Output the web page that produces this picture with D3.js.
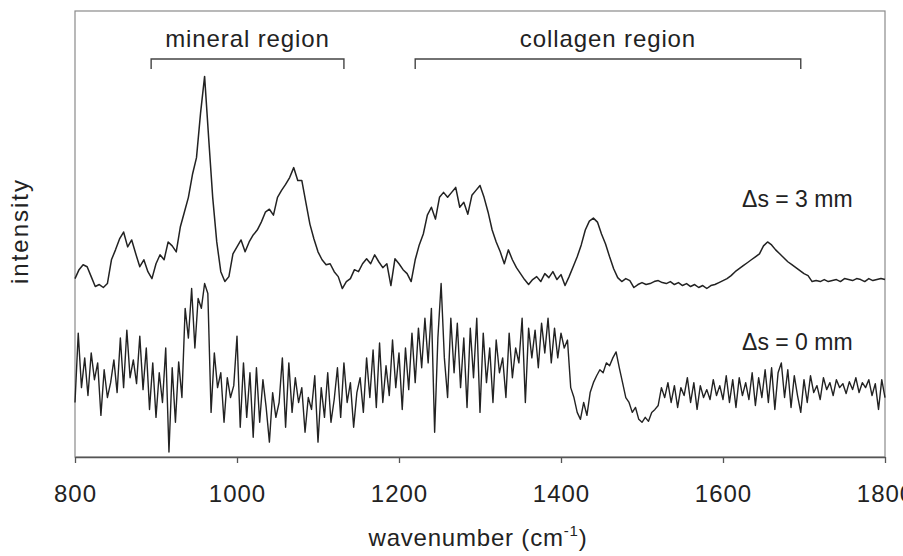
<!DOCTYPE html>
<html>
<head>
<meta charset="utf-8">
<script src="https://cdn.jsdelivr.net/npm/d3@7"></script>
<style>
  html, body { margin: 0; padding: 0; background: #fff; }
  svg { display: block; font-family: 'Liberation Sans', Arial, sans-serif; }
</style>
</head>
<body>
<div id="chart"></div>
<script>
'use strict';

// raman spectra, wavenumber grid is start + i * step
var top3mmStart = 800, top3mmStep = 5;
var spectrum3mm = [
  180,189,194,192,182,172,174,171,175,199,
  209,220,227,212,219,205,192,199,187,180,
  195,204,199,217,213,207,232,247,262,285,
  302,347,384,322,262,217,187,177,182,205,
  212,219,207,217,224,229,237,247,250,244,
  262,269,275,282,292,279,279,257,235,220,
  207,199,194,195,187,182,170,177,180,189,
  187,195,200,195,204,197,191,195,173,200,
  195,189,185,177,199,214,225,244,252,240,
  262,267,262,267,272,252,257,245,264,269,
  274,262,247,229,217,207,195,209,199,191,
  185,179,174,179,182,177,185,181,187,179,
  184,173,182,192,202,214,229,238,241,237,
  225,215,202,190,181,177,180,178,171,174,
  176,174,175,177,178,176,175,177,174,176,
  173,175,172,174,171,173,170,173,174,176,
  178,180,183,187,190,193,196,199,202,205,
  213,217,214,209,205,201,197,194,191,188,
  185,183,177,178,177,179,177,178,179,177,
  180,179,178,180,179,177,180,178,179,180,
  179
];

var bottom0mmStart = 800, bottom0mmStep = 4;
var spectrum0mm = [
  55,125,70,100,62,105,78,95,42,88,
  60,75,98,65,120,70,128,80,98,74,
  122,68,110,48,95,40,85,55,110,5,
  90,35,96,60,150,120,170,110,160,150,
  175,165,45,105,70,85,35,80,60,72,
  122,30,95,40,85,20,90,35,78,50,
  15,65,40,55,100,30,95,45,80,55,
  70,25,60,48,82,15,70,40,85,35,
  58,90,40,95,55,75,30,65,80,45,
  100,60,108,50,115,55,92,62,118,70,
  105,48,110,68,125,75,130,90,140,95,
  150,25,120,175,100,60,140,85,135,70,
  120,50,130,80,140,45,125,75,110,55,
  118,85,100,60,125,80,110,95,140,55,
  130,100,128,90,135,105,140,95,130,100,
  125,110,118,70,60,45,38,55,42,65,
  75,82,88,85,95,92,100,106,90,75,
  60,55,45,50,38,35,40,36,45,48,
  52,70,60,75,55,72,50,70,62,80,
  55,75,48,72,60,68,58,78,62,72,
  58,82,55,78,50,80,62,75,58,85,
  52,80,60,88,55,90,48,85,95,60,
  88,50,82,62,45,78,55,82,65,72,
  58,80,68,75,62,78,70,74,64,76,
  68,80,65,75,70,78,62,74,48,78,
  60
];

var xTicks = [800, 1000, 1200, 1400, 1600, 1800];

var regionNames = ['mineral region', 'collagen region'];
var regionFrom = [894, 1220];
var regionTo = [1132, 1696];

var seriesLabels = ['\u0394s = 3 mm', '\u0394s = 0 mm'];
var labelAt = [[1760, 252], [1760, 108]];

var width = 903, height = 556;
var margin = {top: 11, right: 18, bottom: 99, left: 75};
var innerW = 885 - margin.left, innerH = 457 - margin.top;

var svg = d3.select('#chart').append('svg')
    .attr('width', width)
    .attr('height', height);

var g = svg.append('g')
    .attr('transform', 'translate(' + margin.left + ',' + margin.top + ')');

var x = d3.scaleLinear().domain([800, 1800]).range([0, innerW]);
var y = d3.scaleLinear().domain([0, 450]).range([innerH, 0]);

var toPoints = function (vals, start, step) {
  return vals.map(function (v, i) { return [start + i * step, v]; });
};

var line = d3.line()
    .x(function (d) { return x(d[0]); })
    .y(function (d) { return y(d[1]); });

// frame
g.append('rect')
    .attr('x', 0).attr('y', 0)
    .attr('width', innerW).attr('height', innerH)
    .attr('fill', 'none')
    .attr('stroke', '#8a8a8a')
    .attr('stroke-width', 1.2);

// x axis
var xAxis = g.append('g')
    .attr('transform', 'translate(0,' + innerH + ')')
    .call(d3.axisBottom(x).tickValues(xTicks).tickSize(6).tickSizeOuter(0).tickPadding(22)
      .tickFormat(d3.format('d')));
xAxis.select('.domain').attr('stroke', '#555').attr('stroke-width', 1.5);
xAxis.selectAll('.tick line').attr('stroke', '#555').attr('stroke-width', 1.3);
xAxis.selectAll('.tick text')
    .attr('fill', '#222')
    .style('font-size', '24px')
    .style('letter-spacing', '1px');

// spectra
g.append('path')
    .datum(toPoints(spectrum3mm, top3mmStart, top3mmStep))
    .attr('d', line)
    .attr('fill', 'none')
    .attr('stroke', '#222')
    .attr('stroke-width', 1.5)
    .attr('stroke-linejoin', 'round');

g.append('path')
    .datum(toPoints(spectrum0mm, bottom0mmStart, bottom0mmStep))
    .attr('d', line)
    .attr('fill', 'none')
    .attr('stroke', '#222')
    .attr('stroke-width', 1.4)
    .attr('stroke-linejoin', 'round');

// region brackets
var bracketY = 48;
regionNames.forEach(function (name, i) {
  var x0 = x(regionFrom[i]), x1 = x(regionTo[i]);
  g.append('path')
      .attr('d', 'M' + x0 + ',' + (bracketY + 10) + 'V' + bracketY + 'H' + x1 + 'V' + (bracketY + 10))
      .attr('fill', 'none')
      .attr('stroke', '#444')
      .attr('stroke-width', 1.4);
  g.append('text')
      .attr('x', (x0 + x1) / 2)
      .attr('y', bracketY - 12)
      .attr('text-anchor', 'middle')
      .attr('fill', '#222')
      .style('font-size', '24px')
      .style('letter-spacing', '0.9px')
      .text(name);
});

// series labels
seriesLabels.forEach(function (lbl, i) {
  g.append('text')
      .attr('x', x(labelAt[i][0]))
      .attr('y', y(labelAt[i][1]))
      .attr('text-anchor', 'end')
      .attr('fill', '#222')
      .style('font-size', '23px')
      .text(lbl);
});

// axis titles
svg.append('text')
    .attr('transform', 'translate(28,231) rotate(-90)')
    .attr('text-anchor', 'middle')
    .attr('fill', '#222')
    .style('font-size', '24px')
    .style('letter-spacing', '2px')
    .text('intensity');

var xt = svg.append('text')
    .attr('x', 478)
    .attr('y', 546)
    .attr('text-anchor', 'middle')
    .attr('fill', '#222')
    .style('font-size', '24px')
    .style('letter-spacing', '0.8px');
xt.append('tspan').text('wavenumber (cm');
xt.append('tspan').attr('dy', -10).style('font-size', '15px').text('-1');
xt.append('tspan').attr('dy', 10).text(')');
</script>
</body>
</html>
